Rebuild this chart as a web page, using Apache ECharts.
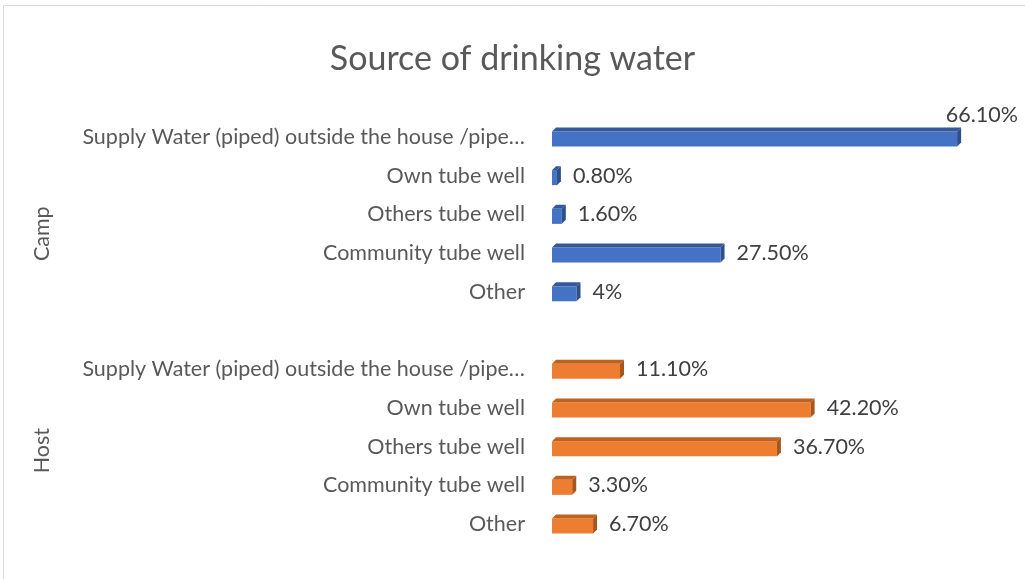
<!DOCTYPE html>
<html><head><meta charset="utf-8">
<script src="https://cdn.jsdelivr.net/npm/echarts@6/dist/echarts.min.js"></script>
<style>html,body{margin:0;padding:0;background:#fff}#c{width:1025px;height:579px}</style>
</head><body><div id="c"></div>
<script>
var categories = ["Supply Water (piped) outside the house /pipe…", "Own tube well", "Others tube well", "Community tube well", "Other"];
var groups = ["Camp", "Host"];
var campValues = [66.1, 0.8, 1.6, 27.5, 4];
var hostValues = [11.1, 42.2, 36.7, 3.3, 6.7];
var campLabels = ["66.10%", "0.80%", "1.60%", "27.50%", "4%"];
var hostLabels = ["11.10%", "42.20%", "36.70%", "3.30%", "6.70%"];

var axisCats = categories.concat([" "]).concat(categories);
var FONT = "Lato, 'Open Sans', sans-serif";
var LABEL_SIZE = 21.5;

function build(values, offset) {
  return values.map(function (v, i) { return [v, i + offset]; });
}

function makeRender(front, top, side, labels) {
  return function (params, api) {
    var v = api.value(0), yi = api.value(1);
    var p0 = api.coord([0, yi]);
    var p1 = api.coord([v, yi]);
    var x0 = p0[0], x1 = p1[0], c = p0[1];
    var h = 15, d = 4;
    var yt = c - h / 2 + d / 2;
    var label = labels[params.dataIndex];
    var lx = x1 + d + 12, ly = c, al = 'left';
    var tw = label.length * 11;
    if (lx + tw > api.getWidth()) { ly = c - 22; lx = api.getWidth() - 7; al = 'right'; }
    return {
      type: 'group',
      children: [
        { type: 'rect', shape: { x: x0, y: yt, width: Math.max(x1 - x0, 0.5), height: h }, style: { fill: front } },
        { type: 'polygon', shape: { points: [[x0, yt], [x0 + d, yt - d], [x1 + d, yt - d], [x1, yt]] }, style: { fill: top } },
        { type: 'polygon', shape: { points: [[x1, yt], [x1 + d, yt - d], [x1 + d, yt - d + h], [x1, yt + h]] }, style: { fill: side } },
        { type: 'text', x: lx, y: ly, style: { text: label, fill: '#404040', fontSize: LABEL_SIZE, fontFamily: FONT, align: al, verticalAlign: 'middle' } }
      ]
    };
  };
}

var chart = echarts.init(document.getElementById('c'), null, { renderer: 'canvas' });
chart.setOption({
  animation: false,
  backgroundColor: '#fff',
  title: { text: 'Source of drinking water', left: 'center', top: 37, textStyle: { fontFamily: FONT, fontSize: 34, fontWeight: 'normal', color: '#595959' } },
  grid: { left: 552, right: 44, top: 117.6, bottom: 35.6 },
  xAxis: { type: 'value', min: 0, max: 70, show: false },
  yAxis: {
    type: 'category', data: axisCats, inverse: true,
    axisLine: { show: false }, axisTick: { show: false }, splitLine: { show: false },
    axisLabel: { color: '#595959', fontSize: LABEL_SIZE, fontFamily: FONT, margin: 27 }
  },
  series: [
    { type: 'custom', name: groups[0], renderItem: makeRender('#4472C4', '#34589A', '#2E4F8C', campLabels), encode: { x: 0, y: 1 }, data: build(campValues, 0) },
    { type: 'custom', name: groups[1], renderItem: makeRender('#ED7D31', '#C0621F', '#A9561C', hostLabels), encode: { x: 0, y: 1 }, data: build(hostValues, 6) }
  ]
});

var yc2 = chart.convertToPixel({ yAxisIndex: 0 }, 2);
var yc3 = chart.convertToPixel({ yAxisIndex: 0 }, 3);
var yh8 = chart.convertToPixel({ yAxisIndex: 0 }, 8);
chart.setOption({
  graphic: [
    { type: 'rect', shape: { x: 3.5, y: 5.5, width: 1200, height: 800 }, style: { fill: 'none', stroke: '#d9d9d9', lineWidth: 1 }, silent: true },
    { type: 'text', x: 42, y: (yc2 + yc3) / 2, rotation: Math.PI / 2, style: { text: groups[0], fill: '#595959', fontSize: LABEL_SIZE, fontFamily: FONT, align: 'center', verticalAlign: 'middle' } },
    { type: 'text', x: 42, y: yh8 + 4, rotation: Math.PI / 2, style: { text: groups[1], fill: '#595959', fontSize: LABEL_SIZE, fontFamily: FONT, align: 'center', verticalAlign: 'middle' } }
  ]
});
</script></body></html>
